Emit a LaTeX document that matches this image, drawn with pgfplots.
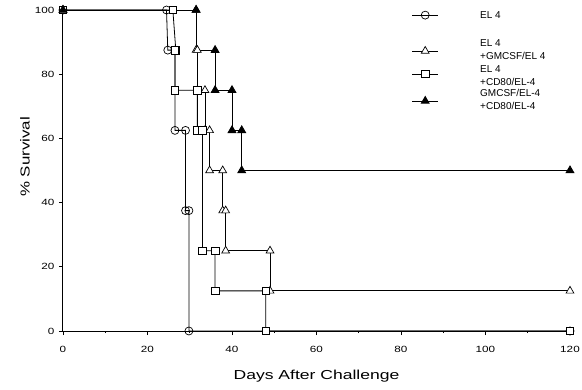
\documentclass[border=0pt]{standalone}
\usepackage{pgfplots}
\pgfplotsset{compat=1.18}
\usepackage{fontspec}
\setmainfont{Liberation Sans}
\newcommand{\lgf}{\fontsize{10}{13}\selectfont}
\pgfplotsset{
  legax/.style={at={(0pt,0pt)}, anchor=south west, scale only axis, width=507pt, height=321pt,
    xmin=0, xmax=120, ymin=0, ymax=100, hide axis, clip=false,
    legend style={draw=none, fill=none, inner sep=0pt, anchor=west, nodes={inner sep=0pt}},
    legend image code/.code={\path[draw=none, fill=none] (0cm,-6pt) rectangle (0.9cm,6pt); \draw (0cm,0cm) -- (0.9cm,0cm); \draw plot coordinates {(0.45cm,0cm)};}},
  sO/.style={black, line width=0.8pt, mark=o, mark size=4pt, mark options={fill=white, line width=0.7pt}},
  sT/.style={black, line width=0.8pt, mark=triangle*, mark size=4.5pt, mark options={fill=white, line width=0.7pt}},
  sS/.style={black, line width=0.8pt, mark=square*, mark size=3.8pt, mark options={fill=white, line width=0.7pt}},
  sF/.style={black, line width=0.8pt, mark=triangle*, mark size=4.5pt, mark options={fill=black}},
}
\begin{document}
\begin{tikzpicture}
\path[use as bounding box] (-63pt,-58pt) rectangle (519pt,331pt);
\begin{axis}[
  at={(0pt,0pt)}, anchor=south west,
  scale only axis, width=507pt, height=321pt,
  xmin=0, xmax=120, ymin=0, ymax=100,
  axis lines=left, axis line style={-, line width=1pt},
  xtick={0,20,...,120}, ytick={0,20,...,100},
  tick align=outside, major tick length=4pt,
  minor x tick num=1, minor tick length=2pt,
  tick style={black, line width=0.7pt},
  ticklabel style={font=\fontsize{9}{10}\selectfont, xscale=1.3},
  xticklabel style={yshift=-8pt},
  yticklabel style={xshift=0pt},
  /pgf/number format/assume math mode=true,
  xlabel={\scalebox{1.35}[1]{Days After Challenge}},
  ylabel={\scalebox{1.3}[1]{\% Survival}},
  label style={font=\fontsize{13}{14}\selectfont},
  xlabel style={at={(axis description cs:0.5,-0.14)}, anchor=center},
  ylabel style={at={(axis description cs:-0.075,0.542)}, anchor=center},
  clip=false,
]
\addplot[sO] coordinates {
(0,100)(24.5,100)(24.8,87.5)(26.5,87.5)(26.5,62.5)(29,62.5)(29,37.5)(29.8,37.5)(29.8,0)(120,0)};
\addplot[sT] coordinates {
(0,100)(31.5,100)(31.5,87.5)(31.8,87.5)(31.8,75)(33.6,75)(33.6,62.5)(34.7,62.5)(34.7,50)(37.8,50)(37.8,37.5)(38.5,37.5)(38.5,25)(49,25)(49,12.5)(120,12.5)};
\addplot[sS] coordinates {
(0,100)(26,100)(26.7,87.5)(26.5,87.5)(26.5,75)(31.8,75)(31.8,62.5)(33,62.5)(33,25)(36,25)(36,12.5)(48,12.5)(48,0)(120,0)};
\addplot[sF, mark indices={1,2,4,5,6,7,8,9,10}] coordinates {
(0,100)(31.5,100)(31.5,87.5)(36,87.5)(36,75)(40,75)(40,62.5)(42.3,62.5)(42.3,50)(120,50)};
\node[anchor=west, align=left, font=\lgf, inner sep=0pt] at (axis description cs:0.8225,0.984) {EL 4};
\node[anchor=west, align=left, font=\lgf, inner sep=0pt] at (axis description cs:0.8225,0.8766) {EL 4\\+GMCSF/EL 4};
\node[anchor=west, align=left, font=\lgf, inner sep=0pt] at (axis description cs:0.8225,0.797) {EL 4\\+CD80/EL-4};
\node[anchor=west, align=left, font=\lgf, inner sep=0pt] at (axis description cs:0.8225,0.7203) {GMCSF/EL-4\\+CD80/EL-4};
\end{axis}
\begin{axis}[legax, legend style={at={(axis description cs:0.688,0.984)}}]
\addlegendimage{sO}\addlegendentry{}
\end{axis}
\begin{axis}[legax, legend style={at={(axis description cs:0.688,0.8723)}}]
\addlegendimage{sT}\addlegendentry{}
\end{axis}
\begin{axis}[legax, legend style={at={(axis description cs:0.688,0.8006)}}]
\addlegendimage{sS}\addlegendentry{}
\end{axis}
\begin{axis}[legax, legend style={at={(axis description cs:0.688,0.7165)}}]
\addlegendimage{sF}\addlegendentry{}
\end{axis}
\end{tikzpicture}
\end{document}
